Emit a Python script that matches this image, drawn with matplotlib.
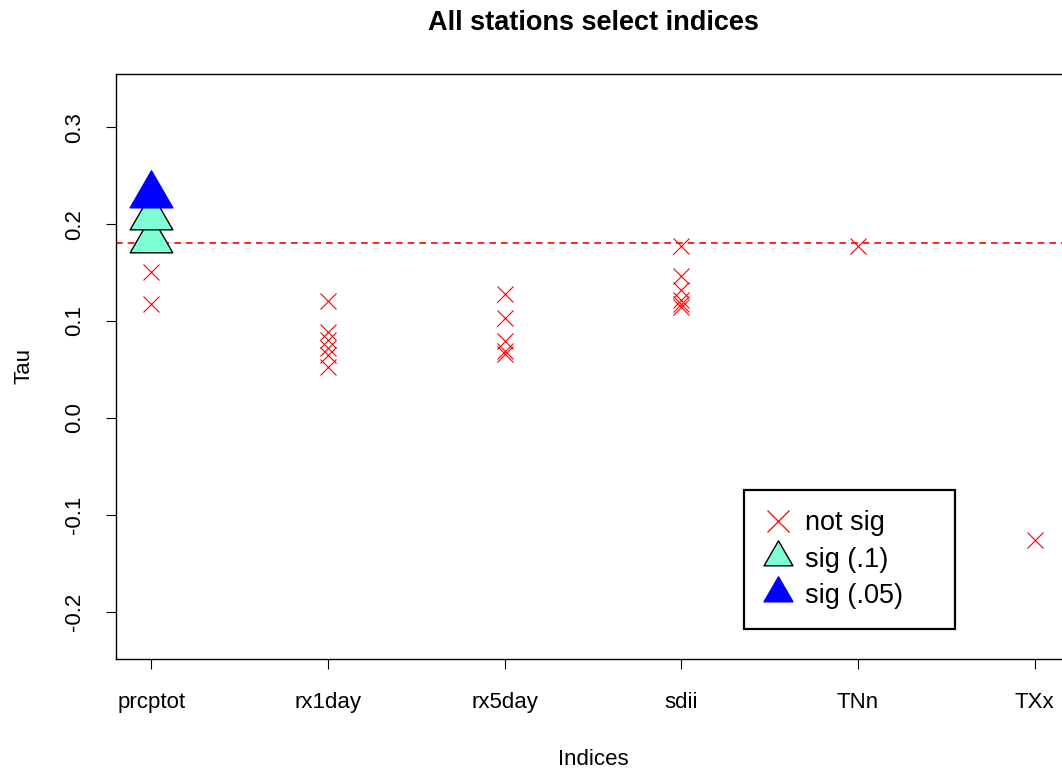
import numpy as np
import matplotlib
matplotlib.use("Agg")
import matplotlib.pyplot as plt
from matplotlib.path import Path
from matplotlib.lines import Line2D

plt.rcParams['font.family'] = ['Liberation Sans', 'DejaVu Sans']

# Kendall tau per index, grouped by significance
indices = ["prcptot", "rx1day", "rx5day", "sdii", "TNn", "TXx"]

not_sig = {
    "prcptot": [0.151, 0.118],
    "rx1day": [0.121, 0.089, 0.080, 0.072, 0.065, 0.053],
    "rx5day": [0.128, 0.103, 0.079, 0.069, 0.066],
    "sdii": [0.177, 0.146, 0.132, 0.122, 0.118, 0.114],
    "TNn": [0.177],
    "TXx": [-0.126],
}
sig_10 = {"prcptot": [0.184, 0.207]}
sig_05 = {"prcptot": [0.230]}

threshold = 0.181
y_ticks = [-0.2, -0.1, 0.0, 0.1, 0.2, 0.3]

# R-style triangle: centroid at the data point
tri = Path([(0, 1), (-np.sqrt(3) / 2, -0.5), (np.sqrt(3) / 2, -0.5), (0, 1)],
           [Path.MOVETO, Path.LINETO, Path.LINETO, Path.CLOSEPOLY])

fig = plt.figure(figsize=(10.62, 7.69), dpi=100)
ax = fig.add_axes([116 / 1062, 110 / 769, 954 / 1062, 585 / 769])

pos = {name: i for i, name in enumerate(indices)}

for name, vals in not_sig.items():
    ax.plot([pos[name]] * len(vals), vals, linestyle="none", marker="x",
            color="red", markersize=12, markeredgewidth=0.8)

ax.axhline(threshold, color="red", linestyle=(0, (4, 3)), linewidth=1.2)

for name, vals in sig_10.items():
    ax.plot([pos[name]] * len(vals), vals, linestyle="none", marker=tri,
            markersize=35.5, markerfacecolor="aquamarine",
            markeredgecolor="black", markeredgewidth=1.0)

for name, vals in sig_05.items():
    ax.plot([pos[name]] * len(vals), vals, linestyle="none", marker=tri,
            markersize=35.5, markerfacecolor="blue",
            markeredgecolor="blue", markeredgewidth=1.0)

ax.set_xlim(-0.2, 5.2)
ax.set_ylim(-0.249, 0.355)
ax.set_xticks(range(len(indices)))
ax.set_xticklabels(indices)
ax.set_yticks(y_ticks)
ax.set_yticklabels([f"{v:.1f}" for v in y_ticks], rotation=90, va="center")
ax.tick_params(axis="both", direction="out", length=7.5, width=0.8,
               labelsize=16, colors="black")
ax.tick_params(axis="x", pad=16)
ax.tick_params(axis="y", pad=15)
for s in ax.spines.values():
    s.set_linewidth(1.0)
    s.set_color("black")

ax.set_xlabel("Indices", fontsize=16, labelpad=26)
ax.set_ylabel("Tau", fontsize=16, labelpad=21)
fig.text(593 / 1062, 1 - 23 / 769, "All stations select indices",
         fontsize=19.5, fontweight="bold", ha="center", va="center")

handles = [
    Line2D([], [], linestyle="none", marker="x", color="red",
           markersize=15.5, markeredgewidth=0.9),
    Line2D([], [], linestyle="none", marker=tri, markersize=24,
           markerfacecolor="aquamarine", markeredgecolor="black",
           markeredgewidth=1.0),
    Line2D([], [], linestyle="none", marker=tri, markersize=24,
           markerfacecolor="blue", markeredgecolor="blue",
           markeredgewidth=1.0),
]
# legend box spanning a fixed region in axes coordinates
x0, x1 = (744 - 116) / 954, (955 - 116) / 954
y0, y1 = (659 - 625) / 585, (659 - 490) / 585
leg = ax.legend(handles, ["not sig", "sig (.1)", "sig (.05)"],
                loc="upper left", bbox_to_anchor=(x0, y0, x1 - x0, y1 - y0),
                mode="expand",
                fontsize=19.5, frameon=True, fancybox=False, shadow=False,
                borderpad=0.75, labelspacing=0.38, handlelength=1.0,
                handletextpad=0.5, borderaxespad=0, framealpha=1)
leg.get_frame().set_edgecolor("black")
leg.get_frame().set_linewidth(1.6)

fig.savefig("out.png", dpi=100)
